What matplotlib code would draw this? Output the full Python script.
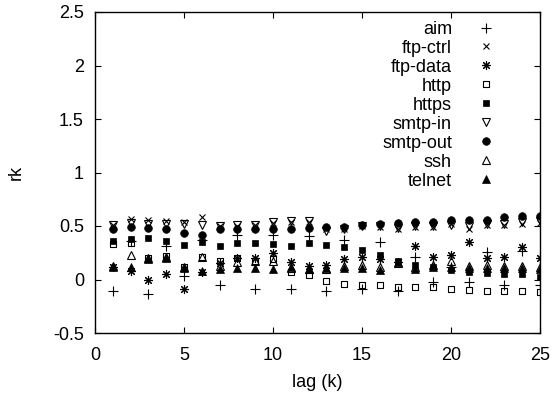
import numpy as np
import matplotlib
matplotlib.use("Agg")
import matplotlib.pyplot as plt
from matplotlib.path import Path

plt.rcParams["font.family"] = ["Liberation Sans", "DejaVu Sans"]

lags = list(range(1, 26))

aim = [-0.11, 0.36, -0.14, 0.31, 0.03, 0.37, -0.05, 0.42, -0.09, 0.42,
       -0.09, 0.41, -0.11, 0.37, -0.09, 0.35, -0.11, 0.21, -0.02, 0.12,
       -0.02, 0.26, -0.05, 0.27, -0.05]
ftp_ctrl = [0.51, 0.57, 0.56, 0.55, 0.54, 0.58, 0.50, 0.50, 0.51, 0.53,
            0.54, 0.54, 0.47, 0.47, 0.50, 0.49, 0.47, 0.49, 0.49, 0.52,
            0.47, 0.51, 0.51, 0.52, 0.53]
ftp_data = [0.12, 0.08, 0.00, 0.05, -0.09, 0.07, 0.15, 0.20, 0.20, 0.25,
            0.16, 0.13, 0.14, 0.19, 0.21, 0.19, 0.16, 0.31, 0.21, 0.23,
            0.35, 0.20, 0.21, 0.30, 0.20]
http = [0.33, 0.34, 0.20, 0.22, 0.12, 0.21, 0.17, 0.20, 0.17, 0.19,
        0.07, 0.04, -0.01, -0.04, -0.05, -0.05, -0.07, -0.07, -0.07, -0.09,
        -0.10, -0.11, -0.11, -0.11, -0.12]
https = [0.36, 0.38, 0.39, 0.36, 0.32, 0.35, 0.31, 0.34, 0.34, 0.33,
         0.31, 0.34, 0.32, 0.30, 0.28, 0.23, 0.17, 0.14, 0.12, 0.09,
         0.07, 0.06, 0.05, 0.05, 0.02]
smtp_in = [0.51, 0.53, 0.52, 0.52, 0.52, 0.51, 0.50, 0.51, 0.51, 0.54,
           0.55, 0.55, 0.45, 0.47, 0.50, 0.50, 0.48, 0.50, 0.50, 0.51,
           0.50, 0.52, 0.52, 0.54, 0.55]
smtp_out = [0.47, 0.49, 0.48, 0.47, 0.43, 0.42, 0.47, 0.47, 0.47, 0.47,
            0.47, 0.48, 0.49, 0.49, 0.51, 0.52, 0.53, 0.54, 0.54, 0.56,
            0.56, 0.56, 0.58, 0.59, 0.59]
ssh = [0.13, 0.23, 0.20, 0.21, 0.12, 0.21, 0.13, 0.16, 0.17, 0.17,
       0.11, 0.10, 0.10, 0.13, 0.14, 0.12, 0.15, 0.12, 0.14, 0.17,
       0.13, 0.14, 0.13, 0.13, 0.12]
telnet = [0.12, 0.12, 0.19, 0.20, 0.11, 0.08, 0.10, 0.11, 0.11, 0.10,
          0.12, 0.10, 0.11, 0.11, 0.11, 0.09, 0.16, 0.10, 0.12, 0.12,
          0.11, 0.11, 0.11, 0.11, 0.10]

# open square with a centre dot, like gnuplot's point type 4
sq_dot = Path(
    [(-1, -1), (1, -1), (1, 1), (-1, 1), (-1, -1),
     (-0.1, -0.1), (0.1, -0.1), (0.1, 0.1), (-0.1, 0.1), (-0.1, -0.1)],
    [Path.MOVETO, Path.LINETO, Path.LINETO, Path.LINETO, Path.CLOSEPOLY,
     Path.MOVETO, Path.LINETO, Path.LINETO, Path.LINETO, Path.CLOSEPOLY],
)

series = [
    ("aim", aim, dict(marker="+", ms=6.5, mew=0.8, mfc="none")),
    ("ftp-ctrl", ftp_ctrl, dict(marker="x", ms=5, mew=0.8, mfc="none")),
    ("ftp-data", ftp_data, dict(marker=(8, 2, 0), ms=6.5, mew=0.8, mfc="none")),
    ("http", http, dict(marker=sq_dot, ms=5, mew=0.8, mfc="none")),
    ("https", https, dict(marker="s", ms=5, mew=0.5, mfc="black")),
    ("smtp-in", smtp_in, dict(marker="v", ms=5.5, mew=0.8, mfc="none")),
    ("smtp-out", smtp_out, dict(marker="o", ms=5.5, mew=0.5, mfc="black")),
    ("ssh", ssh, dict(marker="^", ms=5.5, mew=0.8, mfc="none")),
    ("telnet", telnet, dict(marker="^", ms=5.5, mew=0.5, mfc="black")),
]

FS = 13

fig = plt.figure(figsize=(5.52, 3.97), dpi=100)
ax = fig.add_axes([95 / 552, 1 - 333 / 397, 445 / 552, 321 / 397])

for name, vals, st in series:
    ax.plot(lags, vals, ls="none", color="black", mec="black", label=name, **st)

ax.set_xlim(0, 25)
ax.set_ylim(-0.5, 2.5)
ax.set_xticks([0, 5, 10, 15, 20, 25])
ax.set_yticks([-0.5, 0, 0.5, 1, 1.5, 2, 2.5])
ax.set_yticklabels(["-0.5", "0", "0.5", "1", "1.5", "2", "2.5"])
ax.tick_params(direction="in", length=4, width=0.8, top=True, right=True,
               labelsize=FS, pad=8)
ax.tick_params(axis="x", pad=10)
for s in ax.spines.values():
    s.set_linewidth(1.0)

ax.set_xlabel("lag (k)", fontsize=FS, labelpad=7)
ax.set_ylabel("rk", fontsize=FS, labelpad=20)

ax.legend(loc="upper right", bbox_to_anchor=(0.936, 0.995), frameon=False,
          markerfirst=False, fontsize=FS, labelspacing=0.11,
          handletextpad=0.9, handlelength=2.0, borderaxespad=0.0)

fig.savefig("out.png", dpi=100)
